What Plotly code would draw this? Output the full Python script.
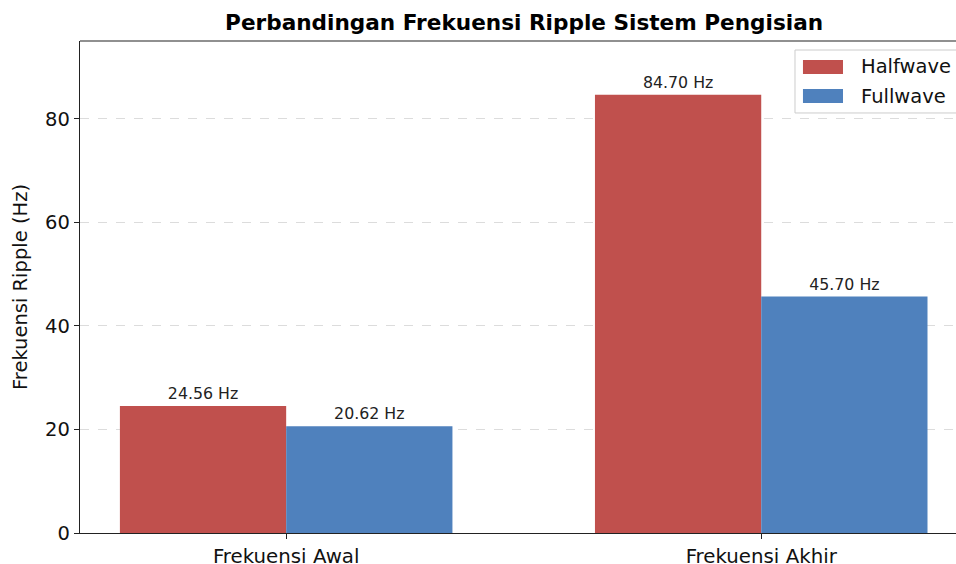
import plotly.graph_objects as go

categories = ["Frekuensi Awal", "Frekuensi Akhir"]
halfwave = [24.56, 84.70]
fullwave = [20.62, 45.70]
series_names = ["Halfwave", "Fullwave"]
colors = ["#C0504D", "#4F81BD"]

fig = go.Figure()
for name, vals, col in zip(series_names, [halfwave, fullwave], colors):
    fig.add_trace(go.Bar(
        x=categories, y=vals, name=name,
        marker=dict(color=col, line=dict(width=0)),
        text=[f"{v:.2f} Hz" for v in vals],
        textposition="outside",
        textfont=dict(family="DejaVu Sans", size=15.8, color="#222222"),
        cliponaxis=False,
        showlegend=False,
    ))

fig.update_layout(
    width=956, height=564,
    margin=dict(l=80, r=0, t=41, b=31),
    paper_bgcolor="white", plot_bgcolor="white",
    barmode="group", bargap=0.3, bargroupgap=0,
    font=dict(family="DejaVu Sans", size=19.5, color="#111111"),
    title=dict(text="<b>Perbandingan Frekuensi Ripple Sistem Pengisian</b>",
               xref="paper", x=0.507, xanchor="center", yref="container", y=0.961,
               yanchor="middle",
               font=dict(family="DejaVu Sans", size=21.6, color="#000000")),
    xaxis=dict(type="category", range=[-0.434, 1.410], showline=True, linecolor="#222222",
               linewidth=1.2, ticks="outside", ticklen=5, tickcolor="#222222",
               showgrid=False, tickfont=dict(size=19.8), zeroline=False, automargin=False),
    yaxis=dict(range=[0, 95.07], showline=True, linecolor="#222222", linewidth=1.2,
               ticks="outside", ticklen=5, tickcolor="#222222",
               tickvals=[0, 20, 40, 60, 80], tickfont=dict(size=19.5),
               showgrid=True, gridcolor="#dcdcdc", griddash="dash", gridwidth=1,
               zeroline=False, automargin=False,
               title=dict(text="Frekuensi Ripple (Hz)", font=dict(size=19.5), standoff=12)),
    showlegend=False,
    hovermode=False,
)
fig.add_shape(type="line", xref="paper", yref="paper", x0=0, x1=1, y0=1, y1=1,
              line=dict(color="#222222", width=1.2))

# legend drawn by hand (matplotlib style: wide patches)
fig.add_shape(type="rect", xref="paper", yref="paper", x0=0.8162, x1=1.02, y0=0.8537, y1=0.9817,
              line=dict(color="#cccccc", width=1), fillcolor="rgba(255,255,255,0.8)", layer="above")
leg_y = [(0.9329, 0.9614, 0.9472), (0.8740, 0.9024, 0.8882)]
for name, col, (y0, y1, yt) in zip(series_names, colors, leg_y):
    fig.add_shape(type="rect", xref="paper", yref="paper", x0=0.8253, x1=0.8710, y0=y0, y1=y1,
                  line=dict(width=0), fillcolor=col, layer="above")
    fig.add_annotation(xref="paper", yref="paper", x=0.8893, y=yt, text=name,
                       showarrow=False, xanchor="left", yanchor="middle",
                       font=dict(size=19.5, color="#111111"))

fig.write_html("out.html", config={"displayModeBar": False, "staticPlot": True},
               post_script="document.body.style.margin='0';document.body.style.overflow='hidden';")
